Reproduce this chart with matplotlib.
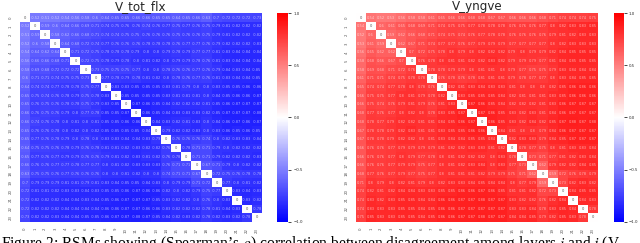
import numpy as np
import matplotlib
matplotlib.use("Agg")
import matplotlib.pyplot as plt

W, H = 640, 243

TITLES = ["V_tot_flx", "V_yngve"]
LAYERS = [str(i) for i in range(24)]
CBAR_TICKS = [-1.0, -0.5, 0.0, 0.5, 1.0]
CAPTION = "Figure 2: RSMs showing (Spearman\u2019s $\\rho$) correlation between disagreement among layers $i$ and $j$ (V"

# upper triangle of each RSM, read row by row (the diagonal is 0)
flx_rows = [
    [-.52, -.51, -.52, -.54, -.56, -.58, -.6, -.64, -.65, -.65, -.66, -.66, -.65, -.65, -.64, -.65, -.66, -.63, -.7, -.72, -.72, -.72, -.73],
    [-.59, -.6, -.64, -.66, -.69, -.71, -.74, -.75, -.76, -.76, -.74, -.76, -.77, -.75, -.77, -.76, -.75, -.79, -.81, -.82, -.82, -.82],
    [-.58, -.62, -.66, -.68, -.71, -.74, -.74, -.75, -.75, -.76, -.76, -.76, -.75, -.76, -.76, -.75, -.79, -.81, -.82, -.82, -.82],
    [-.64, -.68, -.72, -.74, -.77, -.76, -.76, -.76, -.78, -.78, -.78, -.76, -.77, -.77, -.76, -.79, -.82, -.82, -.82, -.83],
    [-.71, -.72, -.75, -.78, -.78, -.78, -.79, -.8, -.8, -.79, -.78, -.79, -.77, -.77, -.81, -.83, -.84, -.84, -.84],
    [-.72, -.75, -.78, -.79, -.78, -.8, -.81, -.82, -.8, -.79, -.79, -.78, -.76, -.81, -.83, -.84, -.84, -.84],
    [-.73, -.75, -.75, -.75, -.77, -.8, -.8, -.78, -.76, -.76, -.77, -.76, -.79, -.84, -.83, -.84, -.85],
    [-.77, -.78, -.79, -.78, -.81, -.82, -.8, -.78, -.76, -.77, -.76, -.81, -.83, -.84, -.84, -.85],
    [-.83, -.83, -.85, -.85, -.85, -.83, -.81, -.79, -.8, -.8, -.83, -.85, -.85, -.86, -.86],
    [-.85, -.85, -.85, -.85, -.83, -.81, -.81, -.81, -.8, -.84, -.85, -.86, -.86, -.87],
    [-.87, -.86, -.85, -.84, -.82, -.82, -.82, -.81, -.85, -.86, -.87, -.87, -.87],
    [-.86, -.85, -.84, -.83, -.83, -.83, -.82, -.85, -.87, -.87, -.87, -.88],
    [-.84, -.83, -.82, -.81, -.83, -.8, -.84, -.86, -.87, -.86, -.87],
    [-.79, -.82, -.82, -.83, -.8, -.83, -.86, -.85, -.86, -.85],
    [-.76, -.76, -.76, -.74, -.8, -.82, -.83, -.83, -.84],
    [-.78, -.71, -.71, -.79, -.8, -.82, -.82, -.82],
    [-.71, -.71, -.79, -.82, -.82, -.82, -.83],
    [-.67, -.71, -.79, -.8, -.82, -.82],
    [-.72, -.75, -.76, -.78, -.78],
    [-.77, -.8, -.81, -.82],
    [-.83, -.84, -.83],
    [-.83, -.82],
    [-.78],
]

yngve_rows = [
    [.54, .52, .53, .56, .58, .58, .61, .65, .66, .66, .68, .68, .67, .67, .66, .66, .66, .68, .71, .74, .74, .74, .75],
    [.6, .61, .65, .68, .69, .71, .74, .75, .75, .77, .78, .78, .78, .76, .76, .76, .77, .8, .82, .83, .83, .85],
    [.59, .62, .66, .68, .71, .74, .75, .74, .76, .77, .78, .78, .76, .76, .76, .76, .79, .81, .82, .83, .83],
    [.62, .67, .71, .74, .77, .77, .76, .77, .79, .79, .79, .77, .77, .77, .77, .8, .82, .83, .83, .83],
    [.7, .72, .75, .78, .8, .79, .8, .82, .82, .82, .79, .8, .79, .79, .82, .84, .85, .85, .85],
    [.76, .78, .8, .81, .81, .82, .82, .83, .82, .79, .79, .79, .77, .81, .84, .85, .85, .85],
    [.78, .78, .79, .79, .8, .81, .81, .8, .79, .77, .75, .75, .79, .83, .84, .84, .84],
    [.76, .78, .76, .78, .81, .81, .81, .79, .78, .77, .77, .8, .83, .84, .85, .85],
    [.82, .81, .83, .84, .83, .83, .81, .8, .8, .8, .82, .85, .86, .86, .86],
    [.83, .85, .85, .85, .84, .82, .81, .81, .81, .83, .85, .86, .86, .86],
    [.87, .86, .85, .84, .82, .82, .82, .81, .83, .86, .87, .87, .87],
    [.87, .86, .85, .83, .82, .83, .81, .84, .86, .87, .87, .87],
    [.86, .85, .83, .82, .84, .82, .85, .87, .88, .87, .88],
    [.84, .81, .8, .8, .79, .84, .86, .87, .87, .87],
    [.82, .83, .83, .79, .84, .85, .87, .87, .87],
    [.78, .77, .75, .8, .81, .83, .83, .84],
    [.73, .71, .77, .81, .82, .83, .84],
    [.62, .79, .82, .82, .84, .85],
    [.59, .72, .76, .78, .79],
    [.73, .82, .83, .82],
    [.84, .85, .85],
    [.84, .83],
    [.78],
]


def to_matrix(rows):
    n = len(rows) + 1
    m = np.zeros((n, n))
    for i, row in enumerate(rows):
        m[i, i + 1:] = row
    return m + m.T


def px_axes(fig, x0, x1, y0, y1):
    """Axes from pixel edges, y counted from the top of the picture."""
    return fig.add_axes([x0 / W, 1 - y1 / H, (x1 - x0) / W, (y1 - y0) / H])


def draw_rsm(fig, m, title, x0, x1, cx0, cx1):
    ax = px_axes(fig, x0, x1, 13.3, 221.7)
    im = ax.imshow(m, cmap="bwr", vmin=-1, vmax=1, aspect="auto", interpolation="nearest")
    for i in range(m.shape[0]):
        for j in range(m.shape[1]):
            # the small numbers wash out when the source is scaled down, hence the alpha
            off = abs(m[i, j]) > 0.3
            ax.text(j, i, f"{m[i, j]:.2g}", ha="center", va="center", fontsize=2.6,
                    color="white" if off else "#262626", alpha=0.6 if off else 0.8)
    ax.set_xticks(range(m.shape[0]), LAYERS, rotation=90, fontsize=2.8, color="#555555")
    ax.set_yticks(range(m.shape[0]), LAYERS, rotation=90, va="center", fontsize=2.8, color="#555555")
    ax.tick_params(length=0)
    ax.tick_params(axis="x", pad=4.5)
    ax.tick_params(axis="y", pad=5.5)
    for s in ax.spines.values():
        s.set_visible(False)
    ax.set_title(title, fontsize=8.6, pad=2.5, color="#262626")

    cax = px_axes(fig, cx0, cx1, 13.3, 221.7)
    cb = fig.colorbar(im, cax=cax, ticks=CBAR_TICKS)
    cb.outline.set_visible(False)
    cb.ax.tick_params(labelsize=2.8, length=2.4, width=0.5, pad=1.5, labelcolor="#262626")


fig = plt.figure(figsize=(W / 100, H / 100), dpi=100)
draw_rsm(fig, to_matrix(flx_rows), TITLES[0], 20, 262, 277, 288)
draw_rsm(fig, to_matrix(yngve_rows), TITLES[1], 356, 598, 613.5, 623.5)

# caption runs off the bottom edge in the source, only its top shows
fig.text(1 / W, 1 - 247.5 / H, CAPTION, fontsize=11.2, family="Liberation Serif",
         ha="left", va="baseline", color="black", math_fontfamily="stix")

fig.savefig("out.png", dpi=100)
